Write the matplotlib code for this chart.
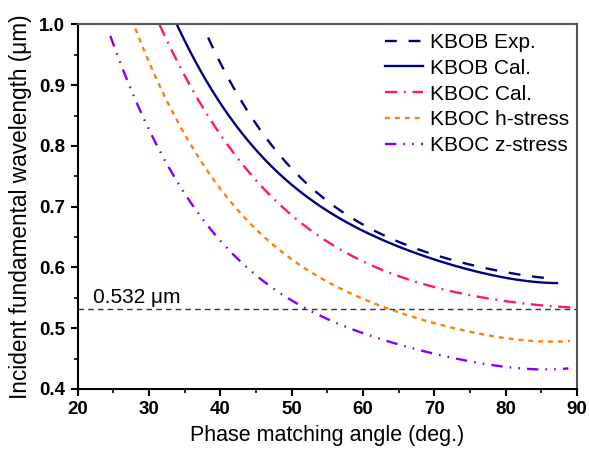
import matplotlib
matplotlib.use("Agg")
import matplotlib.pyplot as plt
import numpy as np

plt.rcParams['font.family'] = ['Liberation Sans', 'DejaVu Sans']

# KBOB Exp. (dashed navy)
exp_x = [38.3, 44.2, 46.7, 49.3, 52.6, 56.1, 59.35, 62.85, 66.1, 69.6, 72.9, 76.4, 82.9, 86.7]
exp_y = [0.978, 0.851, 0.811, 0.772, 0.732, 0.699, 0.673, 0.653, 0.639, 0.625, 0.611, 0.599, 0.586, 0.582]

# KBOB Cal. (solid navy)
cal_x = [34.0, 38.3, 39.5, 44.2, 48.8, 51.2, 53.5, 55.85, 57.7, 60.5, 65.2, 68.0, 72.7, 77.3, 82.0, 87.2]
cal_y = [1.0, 0.9, 0.876, 0.81, 0.749, 0.722, 0.706, 0.689, 0.672, 0.659, 0.634, 0.618, 0.604, 0.591, 0.579, 0.574]

# KBOC Cal. (pink dash-dot)
kc_x = [31.5, 37.0, 41.5, 46.0, 50.5, 55.9, 61.9, 69.6, 75.0, 77.8, 82.0, 89.25]
kc_y = [1.0, 0.873, 0.796, 0.730, 0.682, 0.635, 0.601, 0.568, 0.555, 0.548, 0.542, 0.534]

# KBOC h-stress (orange short dash)
kh_x = [28.1, 32.5, 37.2, 43.9, 48.6, 53.0, 57.7, 62.6, 68.0, 75.0, 82.0, 89.0]
kh_y = [0.994, 0.876, 0.772, 0.678, 0.629, 0.590, 0.561, 0.534, 0.514, 0.494, 0.483, 0.478]

# KBOC z-stress (purple dash-dot-dot)
kz_x = [24.6, 27.8, 31.6, 36.2, 38.1, 42.3, 49.3, 52.6, 58.2, 64.7, 68.0, 75.0, 82.0, 88.8]
kz_y = [0.988, 0.876, 0.788, 0.700, 0.673, 0.621, 0.552, 0.530, 0.497, 0.472, 0.461, 0.448, 0.437, 0.432]

ref_y = 0.532
labels = ['KBOB Exp.', 'KBOB Cal.', 'KBOC Cal.', 'KBOC h-stress', 'KBOC z-stress']

def smooth(x, y, n=200):
    x = np.asarray(x); y = np.asarray(y)
    xs = np.linspace(x[0], x[-1], n)
    c = np.polyfit(x, y, 4)
    return xs, np.polyval(c, xs)

fig = plt.figure(figsize=(5.89, 4.5), dpi=100)
ax = fig.add_axes([0.1316, 0.1356, 0.848, 0.81])

lw = 1.7
navy = '#000080'
pink = '#FF1479'
orange = '#FF7F0A'
purple = '#8000FF'

xs, ys = smooth(exp_x, exp_y)
ax.plot(xs, ys, color=navy, lw=lw, dashes=(5, 5), label=labels[0])
xs, ys = smooth(cal_x, cal_y)
ax.plot(xs, ys, color=navy, lw=lw, label=labels[1])
xs, ys = smooth(kc_x, kc_y)
ax.plot(xs, ys, color=pink, lw=lw, dashes=(5.2, 2.8, 0.8, 2.8), label=labels[2])
xs, ys = smooth(kh_x, kh_y)
ax.plot(xs, ys, color=orange, lw=lw, dashes=(2.1, 2.1), label=labels[3])
xs, ys = smooth(kz_x, kz_y)
ax.plot(xs, ys, color=purple, lw=lw, dashes=(4.8, 3, 0.7, 3, 0.7, 3), label=labels[4])

ax.axhline(ref_y, color='#333333', lw=1.0, dashes=(4, 3))
ax.text(22.2, 0.542, '0.532 \u03bcm', fontsize=15, va='baseline', ha='left')

ax.set_xlim(20, 90)
ax.set_ylim(0.4, 1.0)
ax.set_xticks(np.arange(20, 91, 10))
ax.set_xticks(np.arange(25, 90, 10), minor=True)
ax.set_yticks(np.arange(0.4, 1.01, 0.1))
ax.set_yticks(np.arange(0.45, 1.0, 0.1), minor=True)
ax.yaxis.set_major_formatter(matplotlib.ticker.FormatStrFormatter('%.1f'))
ax.tick_params(which='major', direction='out', length=5, width=1.5, labelsize=13.5, pad=4)
ax.tick_params(which='minor', direction='out', length=3, width=1.2)
ax.tick_params(top=False, right=False)
for lab in ax.get_xticklabels() + ax.get_yticklabels():
    lab.set_fontweight('bold')
for s in ax.spines.values():
    s.set_linewidth(1.5)
ax.spines['top'].set_color('#555555')
ax.spines['right'].set_color('#555555')

ax.set_xlabel('Phase matching angle (deg.)', fontsize=15.5, labelpad=5)
ax.set_ylabel('Incident fundamental wavelength (\u03bcm)', fontsize=16.3, labelpad=5)

leg = ax.legend(loc='upper right', frameon=False, fontsize=15, handlelength=1.8,
                handletextpad=0.33, labelspacing=0.33, borderaxespad=0.05,
                borderpad=0.35)

fig.savefig('out.png', dpi=100)
